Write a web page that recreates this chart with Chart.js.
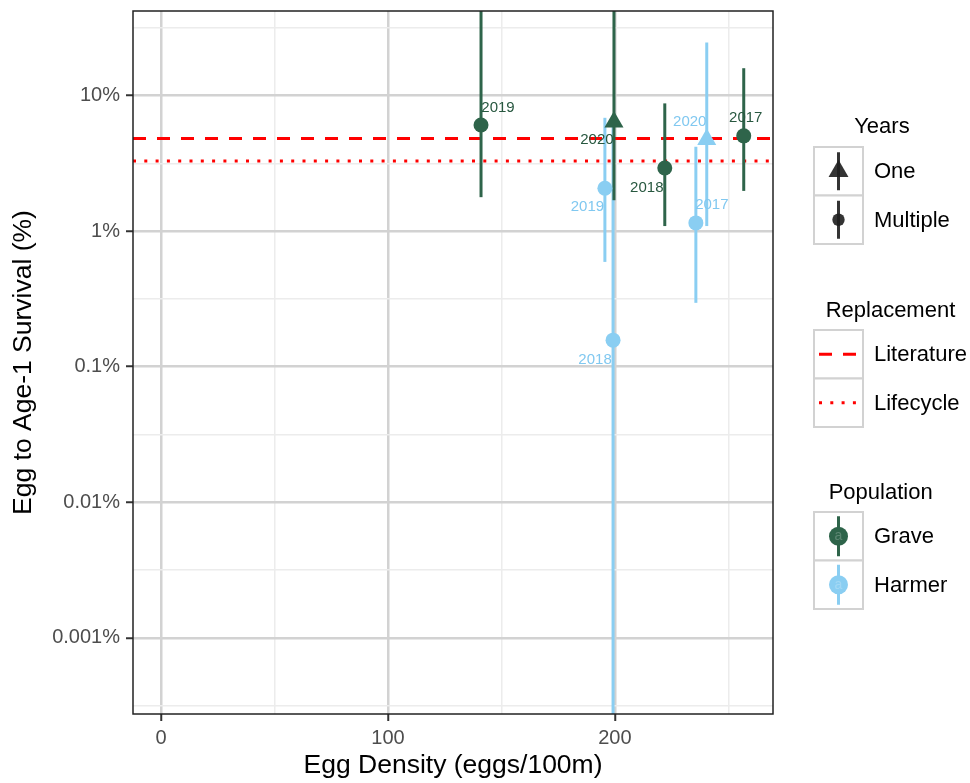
<!DOCTYPE html>
<html>
<head>
<meta charset="utf-8">
<script src="https://cdn.jsdelivr.net/npm/chart.js@4.4.1/dist/chart.umd.min.js"></script>
<style>
  html, body { margin: 0; padding: 0; background: #fff; }
  canvas { display: block; }
</style>
</head>
<body>
<canvas id="survivalChart" width="970" height="783"></canvas>
<script>
// egg density vs egg-to-age-1 survival (%), one point per population and year
const years = ['2017', '2018', '2019', '2020'];

const graveDensity  = [256.8, 222.0, 141.0, 199.6];
const graveSurvival = [5.04, 2.92, 6.06, 6.37];
const graveLower    = [1.98, 1.09, 1.78, 1.69];
const graveUpper    = [15.9, 8.75, 100, 100];
const graveYears    = ['Multiple', 'Multiple', 'Multiple', 'One'];

const harmerDensity  = [235.7, 199.2, 195.6, 240.5];
const harmerSurvival = [1.15, 0.157, 2.07, 4.74];
const harmerLower    = [0.296, 0.0001, 0.593, 1.09];
const harmerUpper    = [4.19, 6.8, 6.85, 24.6];
const harmerYears    = ['Multiple', 'Multiple', 'Multiple', 'One'];

// survival needed for replacement (%)
const replacementNames  = ['Literature', 'Lifecycle'];
const replacementValues = [4.83, 3.29];

const xTicks      = [0, 50, 100, 150, 200, 250];
const xTickLabels = ['0', '', '100', '', '200', ''];
const yTicks      = [0.000316, 0.001, 0.00316, 0.01, 0.0316, 0.1, 0.316, 1, 3.16, 10, 31.6];
const yTickLabels = ['', '0.001%', '', '0.01%', '', '0.1%', '', '1%', '', '10%', ''];

const xMin = -12.4, xMax = 269.7;
const yMin = 0.000275, yMax = 42;

const FONT = '"Liberation Sans", Arial, Helvetica, sans-serif';
Chart.defaults.font.family = FONT;

const populations = [
  { name: 'Grave',  color: 'rgb(46, 100, 74)',   text: 'rgb(40, 88, 64)',
    density: graveDensity, survival: graveSurvival, lower: graveLower, upper: graveUpper, span: graveYears,
    labelOffsets: [[2, -18], [-18, 19.5], [17, -17.5], [-17, 18]] },
  { name: 'Harmer', color: 'rgb(138, 206, 242)', text: 'rgb(128, 200, 240)',
    density: harmerDensity, survival: harmerSurvival, lower: harmerLower, upper: harmerUpper, span: harmerYears,
    labelOffsets: [[16, -18], [-18, 20], [-17.5, 19], [-17, -18]] }
];

const replacementDash = { Literature: [13, 11], Lifecycle: [3, 8.3] };

const shapeFor  = s => (s === 'One' ? 'triangle' : 'circle');
const radiusFor = s => (s === 'One' ? 11 : 7.5);

const datasets = [];

// points on top: Grave (order 0), Harmer (order 1)
populations.forEach((pop, p) => {
  datasets.push({
    label: pop.name,
    data: pop.density.map((x, i) => ({ x, y: pop.survival[i] })),
    pointStyle: pop.span.map(shapeFor),
    pointRadius: pop.span.map(radiusFor),
    backgroundColor: pop.color,
    borderWidth: 0,
    pointBorderWidth: 0,
    order: p
  });
});

// error bars, Grave above Harmer
populations.forEach((pop, p) => {
  pop.density.forEach((x, i) => {
    datasets.push({
      data: [{ x, y: pop.lower[i] }, { x, y: pop.upper[i] }],
      showLine: true,
      borderColor: pop.color,
      borderWidth: 3,
      pointRadius: 0,
      clip: 0,
      order: 2 + p
    });
  });
});

// replacement thresholds across the whole panel
replacementNames.forEach((name, i) => {
  datasets.push({
    data: [{ x: xMin, y: replacementValues[i] }, { x: xMax, y: replacementValues[i] }],
    showLine: true,
    borderColor: '#FF0000',
    borderWidth: 3,
    borderDash: replacementDash[name],
    pointRadius: 0,
    clip: 0,
    order: 4
  });
});

const gridColor = labels => c => (labels[c.index] ? '#D2D2D2' : '#ECECEC');
const gridWidth = labels => c => (labels[c.index] ? 2.5 : 1.5);
const tickColor = labels => c => (labels[c.index] ? '#333333' : 'rgba(0,0,0,0)');

// year labels next to each point, then the panel border
const pointLabels = {
  id: 'pointLabels',
  afterDatasetsDraw(chart) {
    const ctx = chart.ctx;
    ctx.save();
    ctx.font = '15px ' + FONT;
    ctx.textAlign = 'center';
    ctx.textBaseline = 'middle';
    populations.forEach((pop, p) => {
      const meta = chart.getDatasetMeta(p);
      ctx.fillStyle = pop.text;
      meta.data.forEach((pt, i) => {
        const [dx, dy] = pop.labelOffsets[i];
        ctx.fillText(years[i], pt.x + dx, pt.y + dy);
      });
    });
    const a = chart.chartArea;
    ctx.strokeStyle = '#222';
    ctx.lineWidth = 1.5;
    ctx.strokeRect(a.left, a.top, a.right - a.left, a.bottom - a.top);
    ctx.restore();
  }
};

// ggplot-style legends on the right
const keyLeft = 814, keyW = 49, rowH = 48.5, textX = 874;
const legendGroups = [
  { title: 'Years', titleY: 127, top: 147, rows: ['One', 'Multiple'] },
  { title: 'Replacement', titleY: 311, top: 330, rows: replacementNames },
  { title: 'Population', titleY: 493, top: 512, rows: populations.map(p => p.name) }
];

function drawKey(ctx, group, row, cx, cy) {
  ctx.save();
  if (group === 'Years') {
    const col = 'rgba(30, 30, 30, 0.9)';
    ctx.strokeStyle = col; ctx.fillStyle = col; ctx.lineWidth = 3;
    ctx.beginPath(); ctx.moveTo(cx, cy - 19); ctx.lineTo(cx, cy + 19); ctx.stroke();
    ctx.beginPath();
    if (row === 'One') {
      const r = 11.5;
      ctx.moveTo(cx, cy - r);
      ctx.lineTo(cx + r * 0.866, cy + r / 2);
      ctx.lineTo(cx - r * 0.866, cy + r / 2);
      ctx.closePath();
    } else {
      ctx.arc(cx, cy, 6.2, 0, Math.PI * 2);
    }
    ctx.fill();
  } else if (group === 'Replacement') {
    ctx.strokeStyle = '#FF0000'; ctx.lineWidth = 3;
    ctx.setLineDash(replacementDash[row]);
    ctx.beginPath(); ctx.moveTo(keyLeft + 5, cy); ctx.lineTo(keyLeft + 44, cy); ctx.stroke();
  } else {
    const pop = populations.find(p => p.name === row);
    ctx.strokeStyle = pop.color; ctx.fillStyle = pop.color; ctx.lineWidth = 3;
    ctx.beginPath(); ctx.moveTo(cx, cy - 20); ctx.lineTo(cx, cy + 20); ctx.stroke();
    ctx.beginPath(); ctx.arc(cx, cy, 9.5, 0, Math.PI * 2); ctx.fill();
    ctx.fillStyle = 'rgba(255,255,255,0.22)';
    ctx.font = '14px ' + FONT;
    ctx.textAlign = 'center'; ctx.textBaseline = 'middle';
    ctx.fillText('a', cx, cy);
  }
  ctx.restore();
}

const ggLegend = {
  id: 'ggLegend',
  afterDraw(chart) {
    const ctx = chart.ctx;
    ctx.save();
    ctx.font = '22px ' + FONT;
    ctx.textBaseline = 'middle';
    legendGroups.forEach(g => {
      const maxText = Math.max(...g.rows.map(r => ctx.measureText(r).width));
      const center = (keyLeft + textX + maxText) / 2;
      ctx.fillStyle = '#000';
      ctx.textAlign = 'center';
      ctx.fillText(g.title, center, g.titleY);
      g.rows.forEach((row, i) => {
        const y = g.top + i * rowH;
        ctx.fillStyle = '#fff';
        ctx.fillRect(keyLeft, y, keyW, rowH);
        ctx.strokeStyle = '#D2D2D2';
        ctx.lineWidth = 2;
        ctx.strokeRect(keyLeft, y, keyW, rowH);
        drawKey(ctx, g.title, row, keyLeft + keyW / 2, y + rowH / 2);
        ctx.fillStyle = '#000';
        ctx.textAlign = 'left';
        ctx.fillText(row, textX, y + rowH / 2 + 1);
      });
    });
    ctx.restore();
  }
};

new Chart(document.getElementById('survivalChart'), {
  type: 'scatter',
  data: { datasets },
  options: {
    responsive: false,
    animation: false,
    events: [],
    devicePixelRatio: 1,
    layout: { padding: { top: 11, right: 197, bottom: 0, left: 0 } },
    plugins: { legend: { display: false }, tooltip: { enabled: false } },
    scales: {
      x: {
        type: 'linear', min: xMin, max: xMax, bounds: 'data',
        afterBuildTicks: s => { s.ticks = xTicks.map(value => ({ value })); },
        afterFit: s => { s.height = 69; s.paddingLeft = 0; s.paddingRight = 0; },
        ticks: {
          callback: (v, i) => xTickLabels[i],
          autoSkip: false, maxRotation: 0, padding: 5,
          color: '#4D4D4D', font: { size: 20 }
        },
        grid: {
          color: gridColor(xTickLabels), lineWidth: gridWidth(xTickLabels),
          tickColor: tickColor(xTickLabels), tickLength: 7, tickWidth: 2
        },
        border: { display: false },
        title: {
          display: true, text: 'Egg Density (eggs/100m)', color: '#000',
          font: { size: 26.5 }, padding: { top: 0, bottom: 1 }
        }
      },
      y: {
        type: 'logarithmic', min: yMin, max: yMax, bounds: 'data',
        afterBuildTicks: s => { s.ticks = yTicks.map(value => ({ value })); },
        afterFit: s => { s.width = 133; s.paddingTop = 0; s.paddingBottom = 0; },
        ticks: {
          callback: (v, i) => yTickLabels[i],
          autoSkip: false, padding: 6,
          color: '#4D4D4D', font: { size: 20 }
        },
        grid: {
          color: gridColor(yTickLabels), lineWidth: gridWidth(yTickLabels),
          tickColor: tickColor(yTickLabels), tickLength: 7, tickWidth: 2
        },
        border: { display: false },
        title: {
          display: true, text: 'Egg to Age-1 Survival (%)', color: '#000',
          font: { size: 26.5 }, padding: { top: 8, bottom: 0 }
        }
      }
    }
  },
  plugins: [pointLabels, ggLegend]
});
</script>
</body>
</html>
